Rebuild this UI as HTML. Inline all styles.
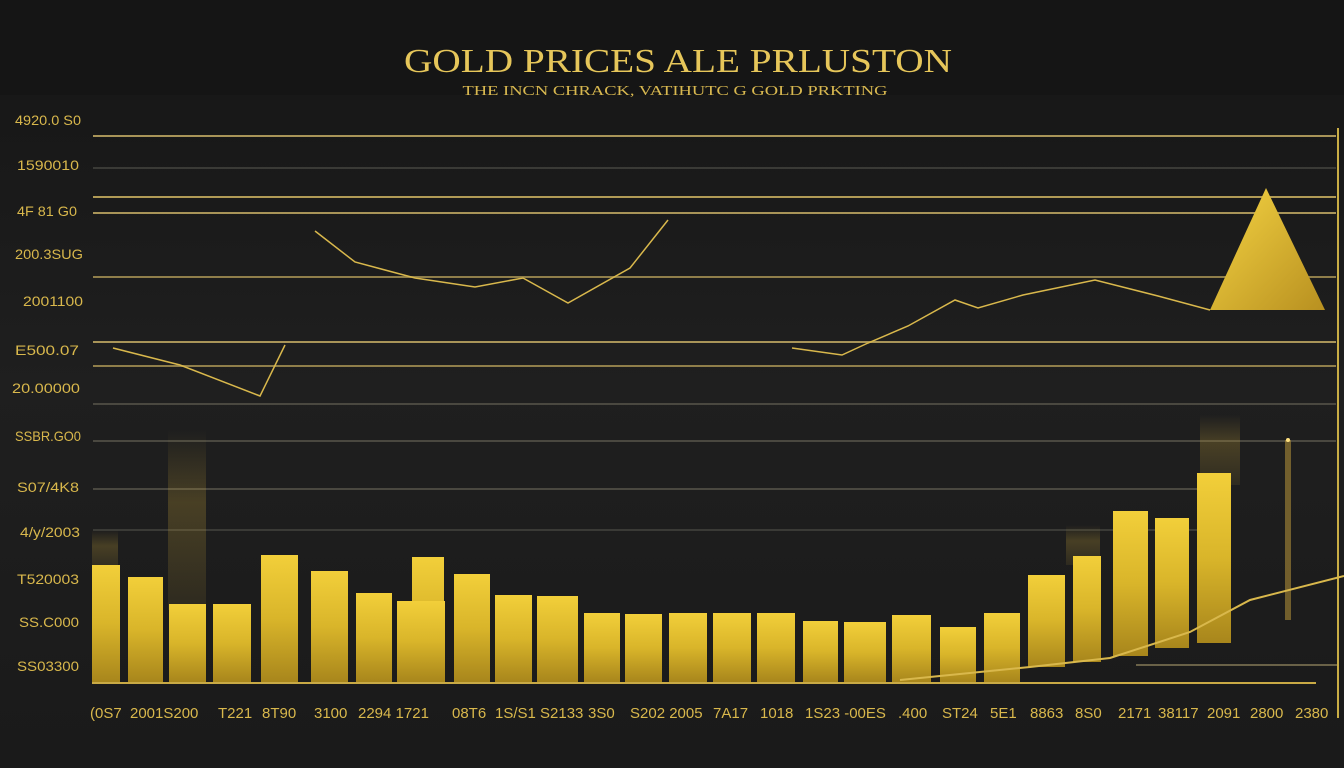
<!DOCTYPE html>
<html><head><style>
html,body{margin:0;padding:0;background:#1b1b1b;}
</style></head><body>
<svg width="1344" height="768" xmlns="http://www.w3.org/2000/svg" style="display:block">
<defs>
<linearGradient id="bg" x1="0" y1="0" x2="0" y2="1"><stop offset="0" stop-color="#151515"/><stop offset="0.5" stop-color="#1f1f1f"/><stop offset="1" stop-color="#1a1a1a"/></linearGradient>
<linearGradient id="bar" x1="0" y1="0" x2="0" y2="1"><stop offset="0" stop-color="#f2cf3a"/><stop offset="0.5" stop-color="#d9b52a"/><stop offset="1" stop-color="#a8861c"/></linearGradient>
<linearGradient id="tri" x1="0" y1="0" x2="1" y2="1"><stop offset="0" stop-color="#f5d443"/><stop offset="1" stop-color="#b89020"/></linearGradient>
<linearGradient id="glow" x1="0" y1="0" x2="0" y2="1"><stop offset="0" stop-color="#c9a53a" stop-opacity="0"/><stop offset="0.4" stop-color="#c9a53a" stop-opacity="0.25"/><stop offset="1" stop-color="#c9a53a" stop-opacity="0.1"/></linearGradient>
</defs>
<rect width="1344" height="768" fill="url(#bg)"/>
<rect width="1344" height="95" fill="#151515"/>
<text x="678" y="72" text-anchor="middle" font-family="Liberation Serif, serif" font-size="34" fill="#e6c65a" textLength="548" lengthAdjust="spacingAndGlyphs">GOLD PRICES ALE  PRLUSTON</text>
<text x="675" y="95" text-anchor="middle" font-family="Liberation Serif, serif" font-size="14" fill="#d8b850" textLength="425" lengthAdjust="spacingAndGlyphs">THE INCN CHRACK, VATIHUTC G GOLD PRKTING</text>
<g stroke-width="2" fill="none">
<line x1="93" y1="136" x2="1336" y2="136" stroke="#a89458"/>
<line x1="93" y1="168" x2="1336" y2="168" stroke="#3a3a36"/>
<line x1="93" y1="197" x2="1336" y2="197" stroke="#b09a55"/>
<line x1="93" y1="213" x2="1336" y2="213" stroke="#a89458"/>
<line x1="93" y1="277" x2="1336" y2="277" stroke="#8f7e4a"/>
<line x1="93" y1="342" x2="1336" y2="342" stroke="#a89458"/>
<line x1="93" y1="366" x2="1336" y2="366" stroke="#8f7e4a"/>
<line x1="93" y1="404" x2="1336" y2="404" stroke="#4a4840"/>
<line x1="93" y1="441" x2="1336" y2="441" stroke="#4a4840"/>
<line x1="93" y1="489" x2="1200" y2="489" stroke="#4a4840"/>
<line x1="93" y1="530" x2="1200" y2="530" stroke="#3a3a36"/>
<line x1="1136" y1="665" x2="1338" y2="665" stroke="#6a6248"/>
<line x1="1338" y1="128" x2="1338" y2="718" stroke="#c9ad45"/>
</g>
<g font-family="Liberation Sans, sans-serif" font-size="14" fill="#d9b84c">
<text x="15" y="125" textLength="66" lengthAdjust="spacingAndGlyphs">4920.0 S0</text><text x="17" y="170" textLength="62" lengthAdjust="spacingAndGlyphs">1590010</text><text x="17" y="216" textLength="60" lengthAdjust="spacingAndGlyphs">4F 81 G0</text>
<text x="15" y="259" textLength="68" lengthAdjust="spacingAndGlyphs">200.3SUG</text><text x="23" y="306" textLength="60" lengthAdjust="spacingAndGlyphs">2001100</text><text x="15" y="355" textLength="64" lengthAdjust="spacingAndGlyphs">E500.07</text>
<text x="12" y="393" textLength="68" lengthAdjust="spacingAndGlyphs">20.00000</text><text x="15" y="441" textLength="66" lengthAdjust="spacingAndGlyphs">SSBR.GO0</text><text x="17" y="492" textLength="62" lengthAdjust="spacingAndGlyphs">S07/4K8</text>
<text x="20" y="537" textLength="60" lengthAdjust="spacingAndGlyphs">4/y/2003</text><text x="17" y="584" textLength="62" lengthAdjust="spacingAndGlyphs">T520003</text><text x="19" y="627" textLength="60" lengthAdjust="spacingAndGlyphs">SS.C000</text><text x="17" y="671" textLength="62" lengthAdjust="spacingAndGlyphs">SS03300</text>
</g>
<g fill="url(#glow)">
<rect x="168" y="430" width="38" height="180"/><rect x="1066" y="525" width="34" height="40"/><rect x="1200" y="415" width="40" height="70"/><rect x="92" y="530" width="26" height="40"/>
</g>
<rect x="1285" y="440" width="6" height="180" fill="#b8953a" opacity="0.55"/>
<circle cx="1288" cy="440" r="2" fill="#ffe080"/>
<g fill="url(#bar)">
<rect x="412" y="557" width="32" height="125"/>
<rect x="92" y="565" width="28" height="117"/><rect x="128" y="577" width="35" height="105"/><rect x="169" y="604" width="37" height="78"/><rect x="213" y="604" width="38" height="78"/>
<rect x="261" y="555" width="37" height="127"/><rect x="311" y="571" width="37" height="111"/><rect x="356" y="593" width="36" height="89"/><rect x="397" y="601" width="48" height="81"/>
<rect x="454" y="574" width="36" height="108"/><rect x="495" y="595" width="37" height="87"/><rect x="537" y="596" width="41" height="86"/><rect x="584" y="613" width="36" height="69"/>
<rect x="625" y="614" width="37" height="68"/><rect x="669" y="613" width="38" height="69"/><rect x="713" y="613" width="38" height="69"/><rect x="757" y="613" width="38" height="69"/>
<rect x="803" y="621" width="35" height="61"/><rect x="844" y="622" width="42" height="60"/><rect x="892" y="615" width="39" height="67"/><rect x="940" y="627" width="36" height="55"/>
<rect x="984" y="613" width="36" height="69"/><rect x="1028" y="575" width="37" height="92"/><rect x="1073" y="556" width="28" height="106"/><rect x="1113" y="511" width="35" height="145"/>
<rect x="1155" y="518" width="34" height="130"/><rect x="1197" y="473" width="34" height="170"/>
</g>
<line x1="92" y1="683" x2="1316" y2="683" stroke="#c9aa45" stroke-width="2"/>
<polygon points="1266,188 1210,310 1325,310" fill="url(#tri)"/>
<g fill="none" stroke="#d9b84c" stroke-width="1.5">
<polyline points="113,348 180,365 260,396 285,345"/>
<polyline points="315,231 355,262 415,278 475,287 523,278 568,303 630,268 668,220"/>
<polyline points="792,348 842,355 868,343 908,326 955,300 978,308 1023,295 1095,280 1158,296 1210,310"/>
<polyline points="900,680 1030,667 1110,658 1190,632 1250,600 1344,576" stroke-width="2"/>
</g>
<g font-family="Liberation Sans, sans-serif" font-size="15" fill="#d9b84c">
<text x="90" y="718">(0S7</text><text x="130" y="718">2001S200</text><text x="218" y="718">T221</text><text x="262" y="718">8T90</text>
<text x="314" y="718">3100</text><text x="358" y="718">2294 1721</text><text x="452" y="718">08T6</text><text x="495" y="718">1S/S1 S2133</text>
<text x="588" y="718">3S0</text><text x="630" y="718">S202 2005</text><text x="713" y="718">7A17</text><text x="760" y="718">1018</text>
<text x="805" y="718">1S23 -00ES</text><text x="898" y="718">.400</text><text x="942" y="718">ST24</text><text x="990" y="718">5E1</text>
<text x="1030" y="718">8863</text><text x="1075" y="718">8S0</text><text x="1118" y="718">2171</text><text x="1158" y="718">38117</text>
<text x="1207" y="718">2091</text><text x="1250" y="718">2800</text><text x="1295" y="718">2380</text>
</g>
</svg>
</body></html>
